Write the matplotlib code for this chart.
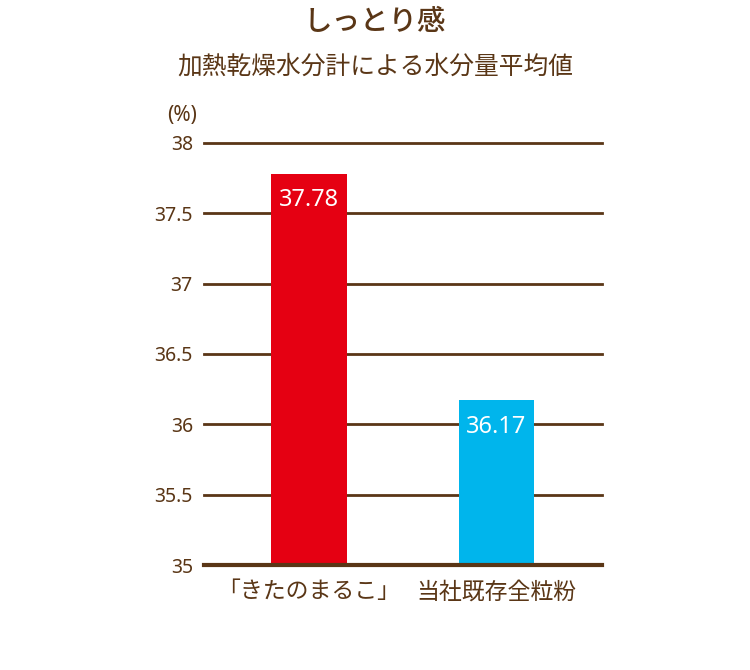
import matplotlib

matplotlib.use("Agg")
import matplotlib.pyplot as plt

plt.rcParams["font.family"] = ["Noto Sans CJK JP", "DejaVu Sans"]
NUM_FONT = ["Noto Sans", "DejaVu Sans"]

BROWN = "#5a3616"

categories = ["「きたのまるこ」", "当社既存全粒粉"]
values = [37.78, 36.17]
value_labels = ["37.78", "36.17"]
bar_colors = ["#e50012", "#00b5ec"]
yticks = [35, 35.5, 36, 36.5, 37, 37.5, 38]
ytick_labels = ["35", "35.5", "36", "36.5", "37", "37.5", "38"]

fig = plt.figure(figsize=(7.5, 6.7), dpi=100)
ax = fig.add_axes([0.272, 0.1567, 0.5307, 0.6299])

x = list(range(len(categories)))
ax.bar(x, [v - 35 for v in values], bottom=35, width=0.405, color=bar_colors, zorder=3)

for yt in yticks[1:]:
    ax.axhline(yt, color=BROWN, linewidth=2, zorder=2, clip_on=False)
ax.axhline(35, color=BROWN, linewidth=3, zorder=4, clip_on=False)

for xi, v, lab in zip(x, values, value_labels):
    ax.annotate(lab, (xi, v), xytext=(0, -19), textcoords="offset points",
                ha="center", va="center", color="white", fontsize=17,
                family=NUM_FONT, zorder=5)

ax.set_xlim(-0.56, 1.563)
ax.set_ylim(35, 38)
ax.set_yticks(yticks)
ax.set_yticklabels(ytick_labels, family=NUM_FONT)
ax.set_xticks(x)
ax.set_xticklabels(categories)
ax.tick_params(axis="y", length=0, pad=8, labelsize=14, labelcolor=BROWN)
ax.tick_params(axis="x", length=0, pad=11, labelsize=16.5, labelcolor=BROWN)
for spine in ax.spines.values():
    spine.set_visible(False)

fig.text(0.263, 0.828, "(%)", ha="right", va="center", fontsize=15,
         color=BROWN, family=NUM_FONT)
fig.text(0.5, 0.968, "しっとり感", ha="center", va="center", fontsize=20.5,
         fontweight="medium", color=BROWN)
fig.text(0.5, 0.901, "加熱乾燥水分計による水分量平均値", ha="center", va="center",
         fontsize=17.8, color=BROWN)

fig.savefig("out.png", dpi=100)
